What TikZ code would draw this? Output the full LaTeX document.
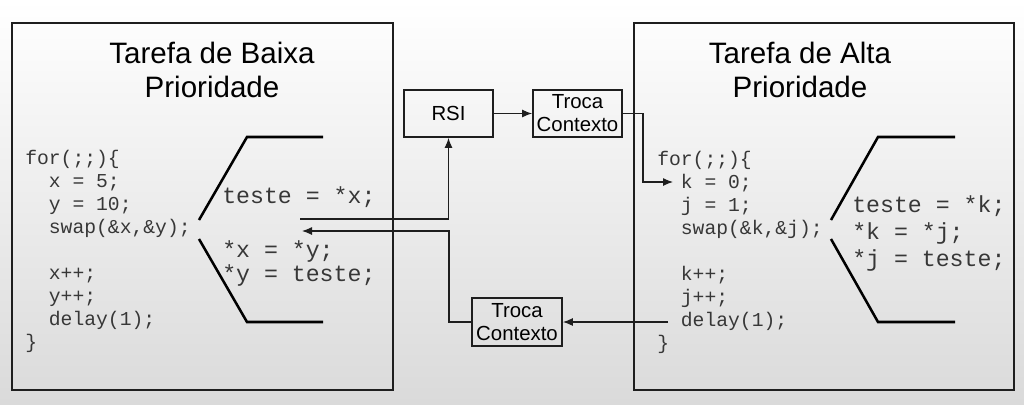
\documentclass[tikz,border=0pt]{standalone}
\usepackage{fontspec}
\setmainfont{Liberation Sans}
\setmonofont{Liberation Mono}
\usetikzlibrary{arrows.meta,positioning}
\definecolor{framedark}{RGB}{30,30,30}
\definecolor{codegray}{RGB}{55,55,55}
\definecolor{bggray}{RGB}{218,218,218}
\tikzset{
  taskbox/.style={rectangle,draw=framedark,line width=1.4pt,
    minimum width=#1,minimum height=9.175cm,inner sep=0pt},
  tasktitle/.style={align=center,inner sep=0pt,text=black,
    font=\fontsize{21}{24}\selectfont},
  codetext/.style={anchor=base west,align=left,inner sep=0pt,text=codegray,
    font=\ttfamily\fontsize{14}{16.3}\selectfont},
  swaptext/.style={anchor=base west,align=left,inner sep=0pt,text=codegray,
    font=\ttfamily\fontsize{16.5}{#1}\selectfont},
  isrbox/.style={rectangle,draw=framedark,line width=1.3pt,minimum width=2.225cm,
    minimum height=1.175cm,inner sep=0pt,align=center,
    font=\fontsize{14.5}{16.3}\selectfont},
  sigarrow/.style={-{Latex[length=2.5mm,width=2mm]},line width=0.8pt,color=framedark},
  swapbrace/.style={line width=1.8pt,color=black},
}
\begin{document}
\begin{tikzpicture}[x=0.025cm,y=-0.025cm]
\useasboundingbox (0,0) rectangle (1024,404);
\shade[top color=white,middle color=white,bottom color=bggray] (0,0) rectangle (1024,404);

%% -- low priority task -----------------------------------------------------
\node[taskbox=9.525cm] (lowbox) at (202.5,206.5) {};
\node[tasktitle] (lowtitle) at (212,70) {Tarefa de Baixa\\Prioridade};
% base anchor sits on the last line
\node[codetext] (lowcode) at (25,348) {%
  for(;;)\{\\
  \hphantom{xx}x = 5;\\
  \hphantom{xx}y = 10;\\
  \hphantom{xx}swap(\&x,\&y);\\[16.3pt]
  \hphantom{xx}x++;\\
  \hphantom{xx}y++;\\
  \hphantom{xx}delay(1);\\
  \}};
\node[swaptext=17] (lowswap) at (222,281) {%
  teste = *x;\\[21pt]
  *x = *y;\\
  *y = teste;};
\draw[swapbrace] (199,220) -- (247,137) -- (323,137);
\draw[swapbrace] (199,239) -- (247,322) -- (323,322);

%% -- high priority task ----------------------------------------------------
\node[taskbox=9.5cm] (highbox) at (824,206.5) {};
\node[tasktitle] (hightitle) at (800,70) {Tarefa de Alta\\Prioridade};
\node[codetext] (highcode) at (657,349) {%
  for(;;)\{\\
  \hphantom{xx}k = 0;\\
  \hphantom{xx}j = 1;\\
  \hphantom{xx}swap(\&k,\&j);\\[16.3pt]
  \hphantom{xx}k++;\\
  \hphantom{xx}j++;\\
  \hphantom{xx}delay(1);\\
  \}};
\node[swaptext=19] (highswap) at (852,266) {%
  teste = *k;\\
  *k = *j;\\
  *j = teste;};
\draw[swapbrace] (831,220) -- (878,137) -- (955,137);
\draw[swapbrace] (831,239) -- (878,322) -- (955,322);

%% -- interrupt and context switches ----------------------------------------
\node[isrbox] (rsi) at (448.5,113.5) {RSI};
\node[isrbox] (tcin) at (577.5,113.5) {Troca\\Contexto};
\node[isrbox,minimum width=2.25cm,minimum height=1.2cm] (tcout) at (517,322) {Troca\\Contexto};

\coordinate (irq) at (300,219);
\coordinate (ret) at (302,231);
\coordinate (retbend) at (449,231);
\coordinate (kbend) at (643,182);
\coordinate (kin) at (673,182);
\coordinate (dly) at (668,322);

%% -- connectors --------------------------------------------------------------
\draw[sigarrow] (irq) -| (rsi.south);
\draw[sigarrow] (rsi.east) -- (tcin.west);
\draw[sigarrow] (tcin.east) -| (kbend) -- (kin);
\draw[sigarrow] (dly) -- (tcout.east);
\draw[sigarrow] (tcout.west) -| (retbend) -- (ret);

\end{tikzpicture}
\end{document}
